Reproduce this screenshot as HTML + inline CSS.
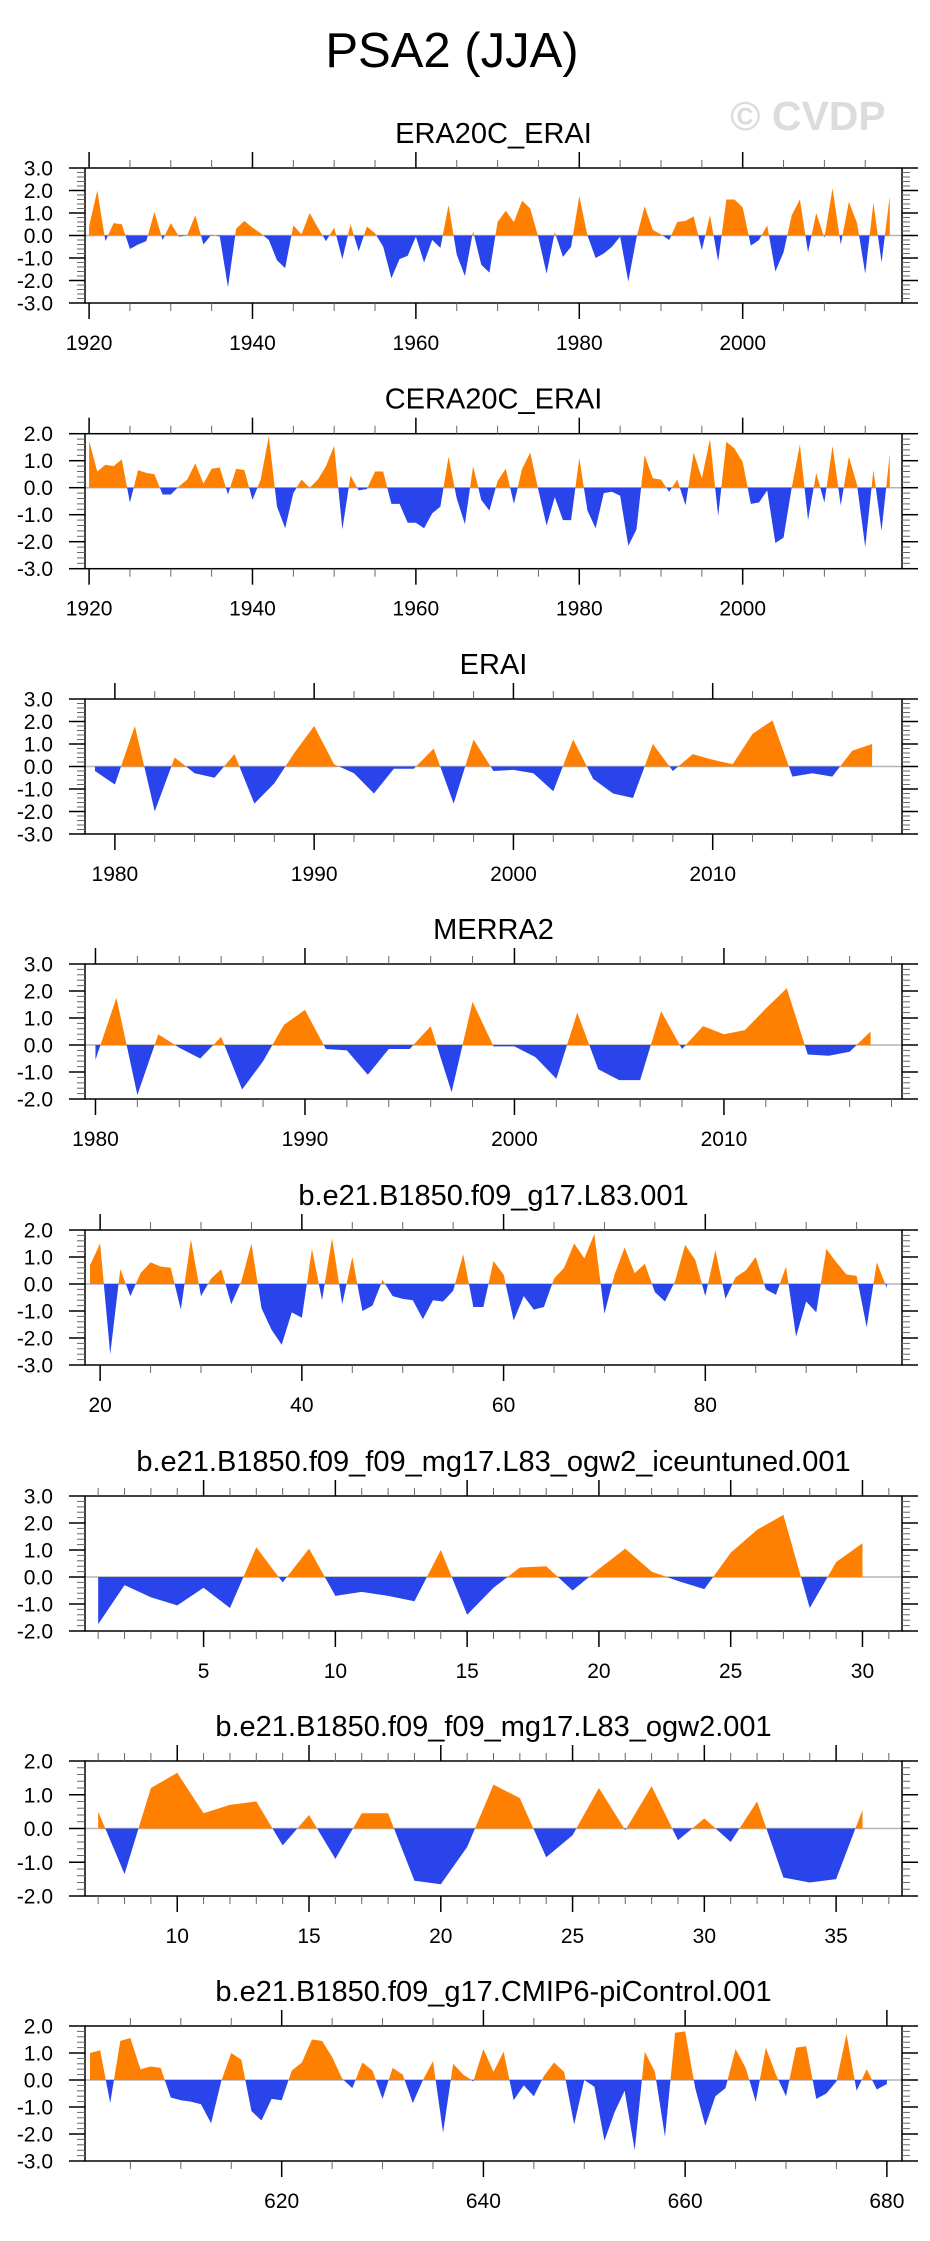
<!DOCTYPE html>
<html><head><meta charset="utf-8"><title>PSA2 (JJA)</title>
<style>
html,body{margin:0;padding:0;background:#fff;}
svg{display:block;font-family:"Liberation Sans",Arial,sans-serif;}
</style></head>
<body>
<svg id="chart" width="930" height="2241" viewBox="0 0 930 2241" xmlns="http://www.w3.org/2000/svg">
<rect x="0" y="0" width="930" height="2241" fill="#fff"/>
<text x="452" y="67" font-size="49" text-anchor="middle" fill="#000">PSA2 (JJA)</text>
<text x="808" y="130" font-size="41" font-weight="bold" text-anchor="middle" fill="#dcdcdc">© CVDP</text>
</svg>
<script>
// ---- data ----
const titles = ["ERA20C_ERAI","CERA20C_ERAI","ERAI","MERRA2","b.e21.B1850.f09_g17.L83.001","b.e21.B1850.f09_f09_mg17.L83_ogw2_iceuntuned.001","b.e21.B1850.f09_f09_mg17.L83_ogw2.001","b.e21.B1850.f09_g17.CMIP6-piControl.001"];
const startYears = [1920,1920,1979,1980,19,1,7,601];
const yMins = [-3,-3,-3,-2,-3,-2,-2,-3];
const yMaxs = [3,2,3,3,2,3,2,2];
const xMajorTicks = [
 [1920,1940,1960,1980,2000],
 [1920,1940,1960,1980,2000],
 [1980,1990,2000,2010],
 [1980,1990,2000,2010],
 [20,40,60,80],
 [5,10,15,20,25,30],
 [10,15,20,25,30,35],
 [620,640,660,680]
];
const xMinorSteps = [5,5,2,2,5,1,1,5];
const yTickLabels = {"3":"3.0","2":"2.0","1":"1.0","0":"0.0","-1":"-1.0","-2":"-2.0","-3":"-3.0"};

const era20c = [0.4,2.0,-0.25,0.55,0.5,-0.6,-0.4,-0.25,1.05,-0.2,0.55,-0.05,0.0,0.9,-0.4,0.05,-0.05,-2.3,0.3,0.65,0.35,0.1,-0.2,-1.1,-1.45,0.45,0.05,1.0,0.35,-0.25,0.35,-1.05,0.5,-0.7,0.4,0.1,-0.5,-1.9,-1.05,-0.9,-0.05,-1.2,-0.2,-0.55,1.35,-0.85,-1.8,0.2,-1.3,-1.65,0.6,1.1,0.6,1.55,1.2,-0.1,-1.7,0.15,-0.95,-0.5,1.75,0.0,-1.0,-0.8,-0.5,-0.05,-2.05,-0.1,1.3,0.25,0.05,-0.2,0.6,0.65,0.85,-0.65,0.9,-1.15,1.6,1.6,1.25,-0.45,-0.2,0.45,-1.6,-0.75,0.9,1.6,-0.75,1.0,-0.1,2.1,-0.4,1.5,0.55,-1.7,1.45,-1.2,1.75];
const cera20c = [1.75,0.6,0.85,0.8,1.05,-0.55,0.65,0.55,0.5,-0.25,-0.25,0.05,0.3,0.9,0.15,0.7,0.75,-0.25,0.7,0.65,-0.45,0.3,1.9,-0.7,-1.5,-0.2,0.3,0.0,0.3,0.8,1.55,-1.55,0.45,-0.1,-0.05,0.6,0.6,-0.6,-0.6,-1.3,-1.3,-1.5,-0.95,-0.7,1.15,-0.4,-1.35,0.8,-0.45,-0.85,0.25,0.7,-0.6,0.7,1.3,-0.1,-1.4,-0.35,-1.2,-1.2,1.1,-0.85,-1.5,-0.2,-0.15,-0.3,-2.15,-1.55,1.2,0.35,0.3,-0.15,0.3,-0.65,1.3,0.35,1.8,-1.05,1.7,1.45,0.95,-0.6,-0.55,-0.1,-2.05,-1.85,0.0,1.6,-1.2,0.55,-0.55,1.55,-0.65,1.15,0.1,-2.2,0.65,-1.6,1.25];
const erai = [-0.2,-0.8,1.8,-2.0,0.4,-0.3,-0.5,0.55,-1.65,-0.75,0.6,1.8,0.1,-0.3,-1.2,-0.1,-0.1,0.8,-1.65,1.2,-0.2,-0.15,-0.3,-1.1,1.2,-0.55,-1.2,-1.4,1.0,-0.2,0.55,0.3,0.1,1.45,2.05,-0.45,-0.3,-0.45,0.7,1.0];
const merra2 = [-0.55,1.75,-1.85,0.4,-0.1,-0.5,0.3,-1.65,-0.6,0.75,1.3,-0.15,-0.2,-1.1,-0.15,-0.15,0.7,-1.75,1.6,-0.05,-0.05,-0.45,-1.25,1.2,-0.9,-1.3,-1.3,1.25,-0.15,0.7,0.4,0.55,1.35,2.1,-0.35,-0.4,-0.25,0.5];
const l83 = [0.7,1.5,-2.6,0.55,-0.45,0.4,0.8,0.65,0.6,-0.95,1.65,-0.45,0.2,0.55,-0.75,0.1,1.5,-0.9,-1.7,-2.25,-1.05,-1.25,1.3,-0.6,1.7,-0.75,1.0,-1.0,-0.8,0.15,-0.45,-0.55,-0.6,-1.3,-0.6,-0.65,-0.25,1.1,-0.85,-0.85,0.85,0.35,-1.35,-0.45,-0.95,-0.85,0.2,0.6,1.5,0.95,1.85,-1.1,0.35,1.35,0.4,0.75,-0.3,-0.65,0.1,1.45,0.9,-0.45,1.25,-0.55,0.25,0.5,1.0,-0.2,-0.4,0.65,-1.95,-0.65,-1.05,1.3,0.8,0.35,0.3,-1.6,0.8,-0.15];
const iceuntuned = [-1.75,-0.3,-0.75,-1.05,-0.4,-1.15,1.1,-0.2,1.05,-0.7,-0.55,-0.7,-0.9,1.0,-1.4,-0.4,0.35,0.4,-0.5,0.3,1.05,0.2,-0.15,-0.45,0.9,1.75,2.3,-1.15,0.55,1.25];
const ogw2 = [0.5,-1.35,1.2,1.65,0.45,0.7,0.8,-0.5,0.4,-0.9,0.45,0.45,-1.55,-1.65,-0.55,1.3,0.9,-0.85,-0.2,1.2,-0.05,1.25,-0.35,0.3,-0.4,0.8,-1.45,-1.6,-1.5,0.55];
const picontrol = [1.0,1.1,-0.85,1.45,1.55,0.4,0.5,0.45,-0.65,-0.75,-0.8,-0.9,-1.6,-0.05,1.0,0.75,-1.15,-1.5,-0.7,-0.75,0.35,0.65,1.5,1.45,0.85,0.05,-0.3,0.65,0.35,-0.7,0.45,0.2,-0.85,0.0,0.7,-1.95,0.6,0.2,-0.05,1.15,0.3,1.05,-0.75,-0.2,-0.6,0.15,0.65,0.3,-1.65,0.0,-0.25,-2.25,-1.2,-0.4,-2.6,1.05,0.3,-2.1,1.75,1.8,-0.3,-1.7,-0.6,-0.3,1.15,0.45,-0.8,1.2,0.2,-0.6,1.2,1.25,-0.7,-0.5,-0.05,1.7,-0.4,0.4,-0.35,-0.15];
const seriesList = [era20c,cera20c,erai,merra2,l83,iceuntuned,ogw2,picontrol];
const panelNames = ["era20c-erai","cera20c-erai","erai","merra2","b1850-g17-l83","ogw2-iceuntuned","ogw2","cmip6-picontrol"];

// ---- layout ----
const NS = "http://www.w3.org/2000/svg";
const svg = document.getElementById("chart");
const boxL = 85, boxR = 902, boxH = 135;
const panelTops = [168,433.7,699,964,1230,1496,1761,2026];
function mk(tag, attrs, parent){const e=document.createElementNS(NS,tag);for(const k in attrs)e.setAttribute(k,attrs[k]);(parent||svg).appendChild(e);return e;}

seriesList.forEach(function(vals, p){
  const top = panelTops[p], bot = top + boxH;
  const x0 = startYears[p] - 0.5, x1 = startYears[p] + vals.length + 0.5;
  const yMin = yMins[p], yMax = yMaxs[p];
  const xs = function(v){return boxL + (v - x0) / (x1 - x0) * (boxR - boxL);};
  const ys = function(v){return bot - (v - yMin) / (yMax - yMin) * boxH;};
  const g = mk("g", {});
  
  

  const t = mk("text", {x: (boxL+boxR)/2, y: top - 25, "font-size": 29, "text-anchor": "middle", fill: "#000"}, g);
  
  
  t.textContent = titles[p];

  // zero line
  const zl = mk("line", {x1: boxL, x2: boxR, y1: ys(0), y2: ys(0), stroke: "#b4b4b4", "stroke-width": 1.5}, g);
  
  

  // augmented points with zero crossings
  const pts = [];
  for (let i = 0; i < vals.length; i++) {
    const xv = startYears[p] + i, v = vals[i];
    if (i > 0) {
      const pv = vals[i-1];
      if ((pv > 0 && v < 0) || (pv < 0 && v > 0)) {
        const f = pv / (pv - v);
        pts.push([xv - 1 + f, 0]);
      }
    }
    pts.push([xv, v]);
  }
  function poly(sel){
    let d = "M" + xs(pts[0][0]).toFixed(2) + "," + ys(0).toFixed(2);
    pts.forEach(function(q){d += "L" + xs(q[0]).toFixed(2) + "," + ys(sel(q[1])).toFixed(2);});
    d += "L" + xs(pts[pts.length-1][0]).toFixed(2) + "," + ys(0).toFixed(2) + "Z";
    return d;
  }
  const pos = mk("path", {d: poly(function(v){return Math.max(v,0);}), fill: "#ff8000", stroke: "none"}, g);
  
  
  const neg = mk("path", {d: poly(function(v){return Math.min(v,0);}), fill: "#2844ea", stroke: "none"}, g);
  
  

  // frame
  const fr = mk("rect", {x: boxL, y: top, width: boxR - boxL, height: boxH, fill: "none", stroke: "#000", "stroke-width": 1.5}, g);
  
  

  // y ticks
  for (let k = Math.round(yMin*5); k <= Math.round(yMax*5); k++) {
    const v = k / 5, y = ys(v), major = (k % 5 === 0);
    const len = major ? 16 : 8, col = major ? "#000" : "#666", sw = major ? 1.5 : 1;
    mk("line", {x1: boxL - len, x2: boxL, y1: y, y2: y, stroke: col, "stroke-width": sw}, g);
    mk("line", {x1: boxR, x2: boxR + len, y1: y, y2: y, stroke: col, "stroke-width": sw}, g);
    if (major) {
      const yl = mk("text", {x: 53, y: y + 7.5, "font-size": 21, "text-anchor": "end", fill: "#000"}, g);
      
      
      yl.textContent = yTickLabels[String(v)];
    }
  }
  // x ticks
  const step = xMinorSteps[p];
  const majors = xMajorTicks[p];
  for (let v = Math.ceil(x0/step)*step; v <= x1; v += step) {
    const x = xs(v), major = majors.indexOf(v) >= 0;
    const len = major ? 16 : 8, col = major ? "#000" : "#666", sw = major ? 1.5 : 1;
    mk("line", {x1: x, x2: x, y1: top - len, y2: top, stroke: col, "stroke-width": sw}, g);
    mk("line", {x1: x, x2: x, y1: bot, y2: bot + len, stroke: col, "stroke-width": sw}, g);
  }
  majors.forEach(function(v){
    const xl = mk("text", {x: xs(v), y: bot + 47, "font-size": 21, "text-anchor": "middle", fill: "#000"}, g);
    
    
    xl.textContent = String(v);
  });
});
</script>
</body></html>
